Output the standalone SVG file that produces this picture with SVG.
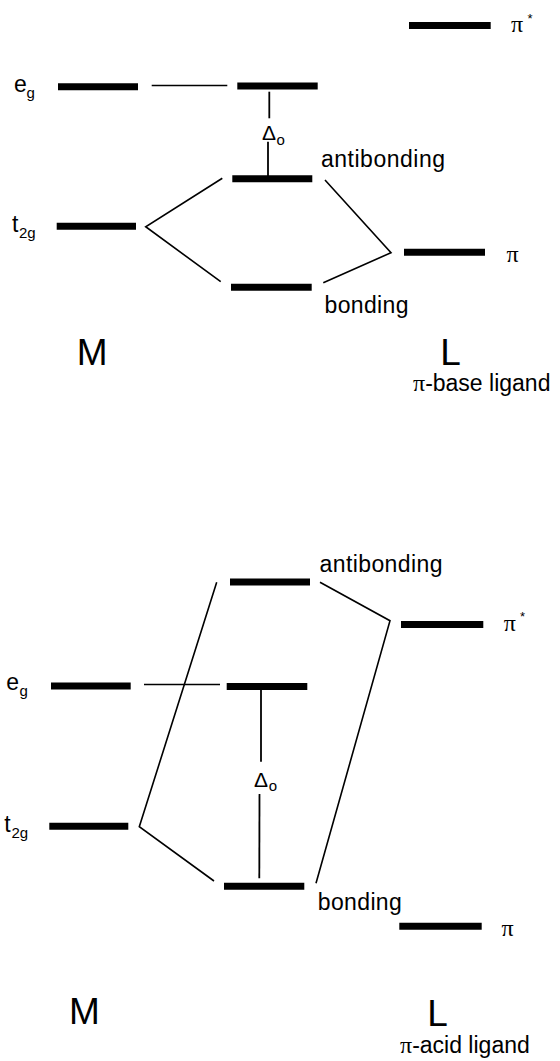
<svg xmlns="http://www.w3.org/2000/svg" width="560" height="1061" viewBox="0 0 560 1061">
<style>
.lvl{stroke:#000;stroke-width:7;stroke-linecap:butt}
.ln{stroke:#000;stroke-width:1.6;fill:none}
.dl{stroke:#000;stroke-width:1.8}
.t{font-family:"Liberation Sans",Arial,sans-serif;font-size:23px;fill:#000}
.s{font-family:"Liberation Sans",Arial,sans-serif;font-size:15px;fill:#000}
.big{font-family:"Liberation Sans",Arial,sans-serif;font-size:37px;fill:#000}
.p{font-family:"Liberation Serif","Times New Roman",serif;font-size:24px;fill:#000}
.a{font-family:"Liberation Sans",Arial,sans-serif;font-size:13px;fill:#000}
</style>
<rect width="560" height="1061" fill="#fff"/>

<!-- Top diagram: pi-base ligand -->
<g id="top-M-eg"><line class="lvl" x1="58" y1="86.7" x2="138" y2="86.7"/><text class="t" x="14" y="91.7">e</text><text class="s" x="26.5" y="97.5">g</text></g>
<g id="top-M-t2g"><line class="lvl" x1="56.7" y1="226.3" x2="136" y2="226.3"/><text class="t" x="12" y="231.7">t</text><text class="s" x="19" y="237.5">2g</text></g>
<g id="top-C-eg"><line class="lvl" x1="237.3" y1="86" x2="317.7" y2="86"/></g>
<g id="top-C-anti"><line class="lvl" x1="232.3" y1="178.8" x2="312.3" y2="178.8"/><text class="t" x="321" y="167" textLength="124" lengthAdjust="spacing">antibonding</text></g>
<g id="top-C-bond"><line class="lvl" x1="231" y1="287.3" x2="311.7" y2="287.3"/><text class="t" x="324.5" y="312.5" textLength="84" lengthAdjust="spacing">bonding</text></g>
<g id="top-L-pistar"><line class="lvl" x1="409" y1="25.5" x2="490.7" y2="25.5"/><text class="p" x="511" y="32">π</text><text class="a" x="527.5" y="23">*</text></g>
<g id="top-L-pi"><line class="lvl" x1="404" y1="252.2" x2="485" y2="252.2"/><text class="p" x="506.5" y="261.5">π</text></g>
<g id="top-delta"><text class="t" x="262" y="140" style="font-size:21px">Δ</text><text class="s" x="276.5" y="144.5">o</text></g>
<g id="top-labels"><text class="big" x="76.7" y="365">M</text><text class="big" x="440.3" y="365">L</text><text class="t" x="413" y="391"><tspan class="p">π</tspan>-base ligand</text></g>

<!-- Bottom diagram: pi-acid ligand -->
<g id="bot-M-eg"><line class="lvl" x1="51" y1="686" x2="130.7" y2="686"/><text class="t" x="6.3" y="690">e</text><text class="s" x="19.5" y="695.5">g</text></g>
<g id="bot-M-t2g"><line class="lvl" x1="49.3" y1="826.3" x2="128.3" y2="826.3"/><text class="t" x="4.3" y="831.7">t</text><text class="s" x="11.4" y="837.5">2g</text></g>
<g id="bot-C-anti"><line class="lvl" x1="230" y1="582" x2="310" y2="582"/><text class="t" x="319.5" y="572" textLength="123" lengthAdjust="spacing">antibonding</text></g>
<g id="bot-C-eg"><line class="lvl" x1="226.7" y1="686.5" x2="307.3" y2="686.5"/></g>
<g id="bot-C-bond"><line class="lvl" x1="224" y1="886.3" x2="304.3" y2="886.3"/><text class="t" x="317.8" y="910" textLength="84" lengthAdjust="spacing">bonding</text></g>
<g id="bot-L-pistar"><line class="lvl" x1="401" y1="624.5" x2="483.3" y2="624.5"/><text class="p" x="503.7" y="630.5">π</text><text class="a" x="520" y="621">*</text></g>
<g id="bot-L-pi"><line class="lvl" x1="399.3" y1="926.3" x2="481.7" y2="926.3"/><text class="p" x="501.5" y="936">π</text></g>
<g id="bot-delta"><text class="t" x="254" y="786.7" style="font-size:21px">Δ</text><text class="s" x="268.8" y="790.5">o</text></g>
<g id="bot-labels"><text class="big" x="69" y="1024">M</text><text class="big" x="427.3" y="1026">L</text><text class="t" x="400" y="1053"><tspan class="p">π</tspan>-acid ligand</text></g>

<g id="connectors">
<line class="ln" x1="151.7" y1="85.5" x2="227.3" y2="85.5"/>
<line class="dl" x1="269.3" y1="91.7" x2="269.3" y2="118.3"/>
<line class="dl" x1="268" y1="141.7" x2="268" y2="176"/>
<polyline class="ln" points="222.3,178.3 145.7,226.7 220.7,281.7"/>
<polyline class="ln" points="325,180 391,252.7 323.3,282.7"/>

<line class="ln" x1="144" y1="684.5" x2="220" y2="684.5"/>
<polyline class="ln" points="216.7,582.3 139.3,826.7 214,881"/>
<polyline class="ln" points="320,582.3 390,620.7 316,883.3"/>
<line class="dl" x1="261" y1="690" x2="261" y2="761.7"/>
<line class="dl" x1="259.5" y1="794" x2="259.3" y2="878.3"/>
</g>
</svg>
